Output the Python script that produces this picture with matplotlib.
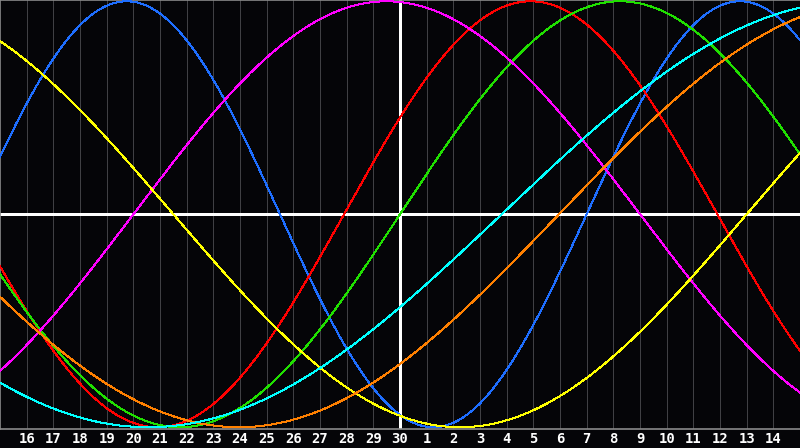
import numpy as np
import matplotlib
matplotlib.use("Agg")
import matplotlib.pyplot as plt

# Day labels along the bottom (gridline k = 1..29); today ("30") is at k = 15
day_labels = [16, 17, 18, 19, 20, 21, 22, 23, 24, 25, 26, 27, 28, 29, 30,
              1, 2, 3, 4, 5, 6, 7, 8, 9, 10, 11, 12, 13, 14]
today_index = 15
n_days = 30

# Biorhythm cycles: cycle length (days) and day index where each curve crosses zero going up
cycle_names = ["physical", "emotional", "intellectual", "intuitive",
               "aesthetic", "awareness", "spiritual"]
cycle_lengths = [23, 28, 33, 38, 43, 48, 53]
zero_up_day = [22.0, 12.9, 15.0, 5.0, 28.0, 20.96, 18.81]
cycle_colors = ["#1E6EFF", "#FF0000", "#20E000", "#FF00FF",
                "#FFFF00", "#FF8000", "#00FFFF"]

bg = "#050508"
fig = plt.figure(figsize=(8.0, 4.48), dpi=100, facecolor=bg)
ax = fig.add_axes([0, 19.5 / 448, 1, 428.5 / 448])
ax.set_facecolor(bg)

t = np.linspace(0, n_days, 1600)
for L, z, c in zip(cycle_lengths, zero_up_day, cycle_colors):
    ax.plot(t, np.sin(2 * np.pi * (t - z) / L), color=c, lw=0.72,
            antialiased=False, zorder=3)

# grid
for k in range(1, n_days):
    if k == today_index:
        continue
    ax.axvline(k, color="#404044", lw=0.72, antialiased=False, zorder=1)
ax.axvline(today_index, color="white", lw=0.9, antialiased=False, zorder=2)
ax.axhline(0, color="white", lw=0.9, antialiased=False, zorder=2)

ax.set_xlim(0, n_days)
ax.set_ylim(-1.006, 1.006)
ax.set_xticks([])
ax.set_yticks([])
ax.spines["right"].set_visible(False)
for side in ["left", "top", "bottom"]:
    ax.spines[side].set_color("#8a8a8a")
    ax.spines[side].set_linewidth(1.2)

for k, lab in enumerate(day_labels, start=1):
    fig.text(k / n_days, 9.5 / 448, str(lab), color="white",
             family="DejaVu Sans Mono", fontweight="bold", fontsize=10,
             ha="center", va="center")

fig.savefig("out.png", dpi=100, facecolor=bg)
